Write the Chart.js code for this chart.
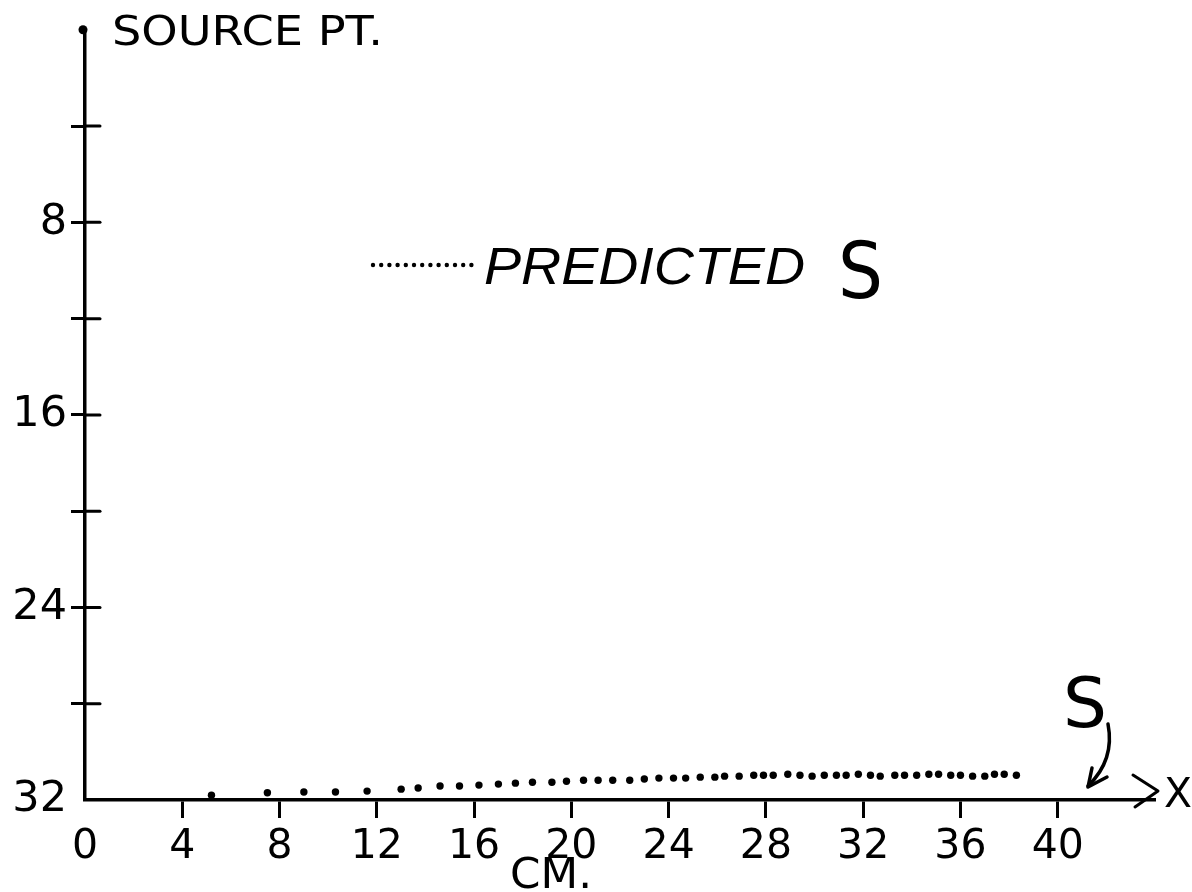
<!DOCTYPE html>
<html><head><meta charset="utf-8">
<script src="https://cdn.jsdelivr.net/npm/chart.js@4.4.1/dist/chart.umd.min.js"></script>
<style>html,body{margin:0;padding:0;background:#fff;}canvas{display:block}</style>
</head><body>
<canvas id="c" width="1192" height="892"></canvas>
<script>
// Distance along x (cm) and predicted S (depth, 0 = source point at top)
const distanceCm = [5.2,7.5,9.0,10.3,11.6,13.0,13.7,14.6,15.4,16.2,17.0,17.7,18.4,19.2,19.8,20.5,21.1,21.7,22.4,23.0,23.6,24.2,24.7,25.3,25.9,26.3,26.9,27.5,27.9,28.3,28.9,29.4,29.9,30.4,30.9,31.3,31.8,32.3,32.7,33.3,33.7,34.2,34.7,35.1,35.6,36.0,36.5,37.0,37.4,37.8,38.3];
const predictedS = [31.8,31.7,31.67,31.67,31.63,31.55,31.5,31.42,31.42,31.38,31.34,31.3,31.26,31.26,31.22,31.18,31.18,31.18,31.18,31.13,31.09,31.09,31.09,31.05,31.05,31.01,31.01,30.97,30.97,30.97,30.93,30.97,31.01,30.97,30.97,30.97,30.93,30.97,31.01,30.97,30.97,30.97,30.93,30.93,30.97,30.97,31.01,31.01,30.93,30.93,30.97];
const xTickValues = [0,4,8,12,16,20,24,28,32,36,40];
const yTickValues = [0,4,8,12,16,20,24,28,32];
const yLabelValues = [8,16,24,32];
const yAxisTitle = 'SOURCE PT.';
const xAxisTitle = 'CM.';
const xAxisEnd = 'X';
const legendText = 'PREDICTED';
const legendSymbol = 'S';
const curveLabel = 'S';

const FONT = '"DejaVu Sans", sans-serif';

const annotations = {
  id: 'annotations',
  afterDraw(chart) {
    const {ctx} = chart;
    const xs = chart.scales.x, ys = chart.scales.y;
    const x0 = xs.getPixelForValue(0), yTop = ys.getPixelForValue(0), yBot = ys.getPixelForValue(32);
    ctx.save();
    ctx.fillStyle = '#000'; ctx.strokeStyle = '#000';
    ctx.lineCap = 'round'; ctx.lineJoin = 'round';
    // y-axis tick marks extending right of axis
    ctx.lineWidth = 3;
    yTickValues.forEach(v => {
      if (v === 0 || v === 32) return;
      const p = ys.getPixelForValue(v);
      ctx.beginPath(); ctx.moveTo(x0, p); ctx.lineTo(x0 + 15, p); ctx.stroke();
    });
    // source point dot
    ctx.beginPath(); ctx.arc(x0 - 2, yTop, 4.5, 0, Math.PI * 2); ctx.fill();
    function fitText(txt, x, y, font, width) {
      ctx.font = font;
      const w = ctx.measureText(txt).width;
      ctx.save(); ctx.translate(x, y); ctx.scale(width / w, 1);
      ctx.textAlign = 'left'; ctx.textBaseline = 'alphabetic';
      ctx.fillText(txt, 0, 0); ctx.restore();
    }
    fitText(yAxisTitle, x0 + 27, 45, '40px ' + FONT, 271);
    // legend dotted sample
    for (let i = 0; i < 13; i++) {
      ctx.beginPath(); ctx.arc(373 + i * 8.2, 265, 2.2, 0, Math.PI * 2); ctx.fill();
    }
    fitText(legendText, 484, 284, 'italic 52px "Liberation Sans", sans-serif', 321);
    fitText(legendSymbol, 838, 298, '78px ' + FONT, 45);
    // x-axis title
    fitText(xAxisTitle, 510, 888, '42px ' + FONT, 82);
    // axis arrow head
    ctx.lineWidth = 3;
    ctx.beginPath(); ctx.moveTo(1133, yBot - 25); ctx.lineTo(1158, yBot - 9); ctx.lineTo(1135, yBot + 7); ctx.stroke();
    fitText(xAxisEnd, 1164, 807, '40px ' + FONT, 28);
    // curve label S with arrow
    fitText(curveLabel, 1063, 727, '70px ' + FONT, 44);
    ctx.lineWidth = 3.5;
    ctx.beginPath(); ctx.moveTo(1108, 724); ctx.quadraticCurveTo(1115, 760, 1088, 786); ctx.stroke();
    ctx.beginPath(); ctx.moveTo(1092, 768); ctx.lineTo(1088, 787); ctx.lineTo(1107, 777); ctx.stroke();
    ctx.restore();
  }
};

new Chart(document.getElementById('c'), {
  type: 'scatter',
  data: {
    datasets: [{
      data: distanceCm.map((x, i) => ({x, y: predictedS[i]})),
      pointRadius: 3.7, pointBackgroundColor: '#000', pointBorderWidth: 0, showLine: false
    }]
  },
  options: {
    responsive: false, animation: false, devicePixelRatio: 1,
    layout: {padding: {left: 0, top: 24, right: 37, bottom: 0}},
    plugins: {legend: {display: false}, tooltip: {enabled: false}},
    scales: {
      x: {
        type: 'linear', min: 0, max: 44,
        afterBuildTicks: s => { s.ticks = xTickValues.map(v => ({value: v})); },
        afterFit: s => { s.height = 92; },
        border: {display: true, color: '#000', width: 3.5},
        grid: {drawOnChartArea: false, drawTicks: true, tickLength: 18, tickWidth: 3,
               tickColor: c => (c.tick && c.tick.value === 0) ? 'rgba(0,0,0,0)' : '#000'},
        ticks: {color: '#000', font: {family: FONT, size: 41}, padding: 5, maxRotation: 0, autoSkip: false,
                callback: v => String(v)}
      },
      y: {
        type: 'linear', min: 0, max: 32, reverse: true,
        afterBuildTicks: s => { s.ticks = yTickValues.map(v => ({value: v})); },
        afterFit: s => { s.width = 85; },
        border: {display: true, color: '#000', width: 3.5},
        grid: {drawOnChartArea: false, drawTicks: true, tickLength: 14, tickWidth: 3,
               tickColor: c => (c.tick && (c.tick.value === 0 || c.tick.value === 32)) ? 'rgba(0,0,0,0)' : '#000'},
        ticks: {color: '#000', font: {family: FONT, size: 43}, padding: 4, autoSkip: false,
                callback: v => yLabelValues.includes(v) ? String(v) : ''}
      }
    }
  },
  plugins: [annotations]
});
</script>
</body></html>
